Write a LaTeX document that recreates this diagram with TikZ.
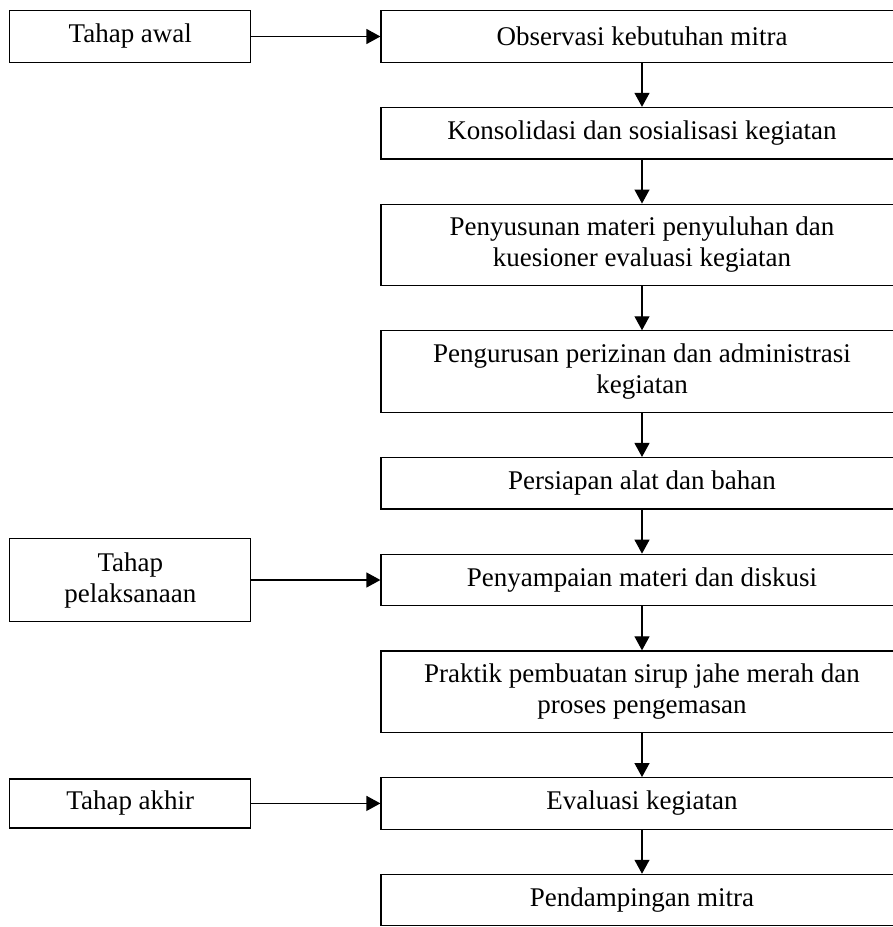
\documentclass[tikz,border=0pt]{standalone}
\usepackage{fontspec}
\setmainfont{Liberation Serif}
\usetikzlibrary{positioning,arrows.meta}

\begin{document}
\begin{tikzpicture}[x=1pt, y=1pt, node distance={44pt}, line width=1.2pt,
	font=\fontsize{27}{31}\selectfont,
	main/.style = {draw, rectangle, minimum width=522pt, minimum height=51.5pt, align=center, inner sep=0pt},
	side/.style = {draw, rectangle, minimum width=241pt, minimum height=52pt, align=center, inner sep=0pt},
	panah/.style = {-{Triangle[length=14pt, width=15pt]}}]
				\useasboundingbox (0,0) rectangle (893,-927);
				\node[main] (1) at (642,-36.5) {Observasi kebutuhan mitra};
				\node[main] (2) [below=of 1] {Konsolidasi dan sosialisasi kegiatan};
				\node[main, minimum height=81.5pt] (3) [below=of 2] {Penyusunan materi penyuluhan dan\\kuesioner evaluasi kegiatan};
				\node[main, minimum height=81.5pt] (4) [below=of 3] {Pengurusan perizinan dan administrasi\\kegiatan};
				\node[main] (5) [below=of 4] {Persiapan alat dan bahan};
				\node[main] (6) [below=of 5] {Penyampaian materi dan diskusi};
				\node[main, minimum height=81.5pt] (7) [below=of 6] {Praktik pembuatan sirup jahe merah dan\\proses pengemasan};
				\node[main] (8) [below=of 7] {Evaluasi kegiatan};
				\node[main] (9) [below=of 8] {Pendampingan mitra};
				\node[side] (awal) [left=129pt of 1] {Tahap awal};
				\node[side, minimum height=83pt] (pelaksanaan) [left=129pt of 6] {Tahap\\pelaksanaan};
				\node[side, minimum height=49pt] (akhir) [left=129pt of 8] {Tahap akhir};
				\draw[panah] (awal) -- (1);
				\draw[panah] (pelaksanaan) -- (6);
				\draw[panah] (akhir) -- (8);
				\draw[panah] (1) -- (2);
				\draw[panah] (2) -- (3);
				\draw[panah] (3) -- (4);
				\draw[panah] (4) -- (5);
				\draw[panah] (5) -- (6);
				\draw[panah] (6) -- (7);
				\draw[panah] (7) -- (8);
				\draw[panah] (8) -- (9);
			\end{tikzpicture}
\end{document}
